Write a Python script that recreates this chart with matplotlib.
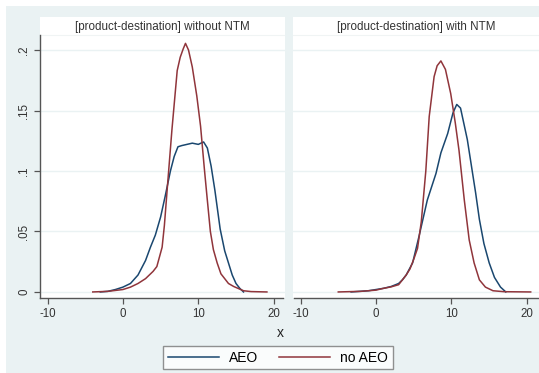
import matplotlib
matplotlib.use("Agg")
import matplotlib.pyplot as plt
from matplotlib.patches import Rectangle
from matplotlib.lines import Line2D

# densities
# left panel: [product-destination] without NTM
x_aeo_l = [-3, -2, -1, 0, 1, 2, 3, 3.65, 4.3, 5, 5.6, 6.3, 6.8, 7.3, 7.8, 8.5, 9.2, 10, 10.7, 11.2, 11.7, 12.2, 12.9, 13.5, 13.9, 14.5, 15, 15.5, 16]
y_aeo_l = [0, 0.0005, 0.002, 0.004, 0.007, 0.014, 0.026, 0.037, 0.047, 0.062, 0.079, 0.1, 0.112, 0.12, 0.121, 0.122, 0.123, 0.122, 0.124, 0.119, 0.104, 0.084, 0.052, 0.034, 0.026, 0.014, 0.007, 0.003, 0.0]
x_noaeo_l = [-4, -2, 0, 1, 2, 3, 4, 4.5, 5.2, 5.5, 5.9, 6.5, 7.2, 7.6, 8.0, 8.3, 8.7, 9.2, 9.8, 10.3, 10.8, 11.15, 11.6, 12, 12.5, 13, 14, 14.7, 16, 17, 19.1]
y_noaeo_l = [0, 0.0005, 0.002, 0.004, 0.007, 0.011, 0.017, 0.021, 0.037, 0.055, 0.087, 0.134, 0.183, 0.194, 0.201, 0.2055, 0.2, 0.186, 0.162, 0.137, 0.102, 0.079, 0.05, 0.035, 0.024, 0.015, 0.007, 0.0045, 0.001, 0.0003, 0]

# right panel: [product-destination] with NTM
x_aeo_r = [-3.3, -1, 0, 1, 2, 3, 3.5, 4, 4.85, 5.7, 6.8, 7.95, 8.6, 9.5, 10.2, 10.7, 11.2, 12.1, 13.2, 13.7, 14.3, 15, 15.7, 16.5, 17.2]
y_aeo_r = [0, 0.001, 0.002, 0.003, 0.0045, 0.007, 0.01, 0.014, 0.024, 0.046, 0.076, 0.098, 0.115, 0.131, 0.148, 0.155, 0.152, 0.126, 0.082, 0.06, 0.04, 0.024, 0.012, 0.004, 0]
x_noaeo_r = [-5, -2, 0, 1, 2, 3, 4, 4.5, 5, 5.5, 6, 6.6, 7.05, 7.7, 8.1, 8.6, 9.2, 9.9, 10.5, 11, 11.7, 12.35, 13, 13.7, 14.5, 15.5, 17, 20.5]
y_noaeo_r = [0, 0.0005, 0.0015, 0.003, 0.0042, 0.006, 0.014, 0.019, 0.027, 0.036, 0.058, 0.1, 0.145, 0.178, 0.187, 0.191, 0.184, 0.164, 0.14, 0.117, 0.076, 0.043, 0.024, 0.01, 0.004, 0.001, 0.0002, 0]

titles = ["[product-destination] without NTM", "[product-destination] with NTM"]
yticks = [0, 0.05, 0.1, 0.15, 0.2]
ytick_labels = ["0", ".05", ".1", ".15", ".2"]
xticks = [-10, 0, 10, 20]

navy = "#1a476f"
maroon = "#90353b"
bg = "#eaf2f3"
axcol = "#555555"

plt.rcParams["font.family"] = ["Liberation Sans", "DejaVu Sans"]

W, H = 539, 373
fig = plt.figure(figsize=(W / 100, H / 100), dpi=100, facecolor="white")
fig.patches.append(Rectangle((6 / W, 0), 1 - 6 / W, (H - 6) / H, transform=fig.transFigure,
                             facecolor=bg, edgecolor="none", zorder=-10))

ax1 = fig.add_axes([40 / W, (H - 298) / H, 245 / W, 281 / H])
ax2 = fig.add_axes([293 / W, (H - 298) / H, 246 / W, 281 / H])

ylim = (-0.005, 0.2273)
for ax, xs, ys, title in [(ax1, (x_aeo_l, x_noaeo_l), (y_aeo_l, y_noaeo_l), titles[0]),
                          (ax2, (x_aeo_r, x_noaeo_r), (y_aeo_r, y_noaeo_r), titles[1])]:
    ax.set_facecolor("white")
    ax.set_ylim(*ylim)
    ax.set_yticks(yticks)
    for yt in yticks:
        ax.axhline(yt, color=bg, lw=1.0, zorder=0)
    ax.plot(xs[0], ys[0], color=navy, lw=1.1, zorder=3)
    ax.plot(xs[1], ys[1], color=maroon, lw=1.1, zorder=3)
    ax.set_xticks(xticks)
    ax.set_xticklabels([str(t) for t in xticks])
    ax.tick_params(axis="x", colors=axcol, labelcolor="#333333", labelsize=8.3, length=4, width=0.9, pad=3)
    for s in ["top", "right"]:
        ax.spines[s].set_visible(False)
    ax.spines["bottom"].set_color(axcol)
    ax.spines["bottom"].set_linewidth(1.0)
    ax.text(0.5, 0.963, title, transform=ax.transAxes, ha="center", va="center",
            fontsize=8.4, color="#333333")
    ax.axhline(0.2124, color="#f0f4f4", lw=0.8, zorder=0)

ax1.set_xlim(-11.0, 21.5)
ax2.set_xlim(-11.0, 21.6)
ax1.set_yticklabels(ytick_labels, rotation=90, va="center")
ax1.tick_params(axis="y", colors=axcol, labelcolor="#333333", labelsize=8.3, length=4, width=0.9, pad=3)
ax1.spines["left"].set_color(axcol)
ax1.spines["left"].set_linewidth(1.0)
ax1.spines["left"].set_bounds(ylim[0], 0.2124)
ax1.spines["bottom"].set_bounds(-11.0, 21.2)
ax2.spines["left"].set_visible(False)
ax2.spines["bottom"].set_bounds(-10.9, 21.6)
ax2.tick_params(axis="y", left=False, labelleft=False)

fig.text(280 / W, 1 - 333 / H, "x", ha="center", va="center", fontsize=10, color="#222222")

handles = [Line2D([], [], color=navy, lw=1.1), Line2D([], [], color=maroon, lw=1.1)]
leg = fig.legend(handles, ["AEO", "no AEO"], loc="center", bbox_to_anchor=(278 / W, 1 - 357.5 / H),
                 ncol=2, frameon=True, fancybox=False, fontsize=10, handlelength=3.7,
                 columnspacing=1.5, borderpad=0.35, handletextpad=0.7, borderaxespad=0)
leg.get_frame().set_edgecolor("#777777")
leg.get_frame().set_linewidth(1.0)

fig.savefig("out.png", dpi=100, facecolor="white")
